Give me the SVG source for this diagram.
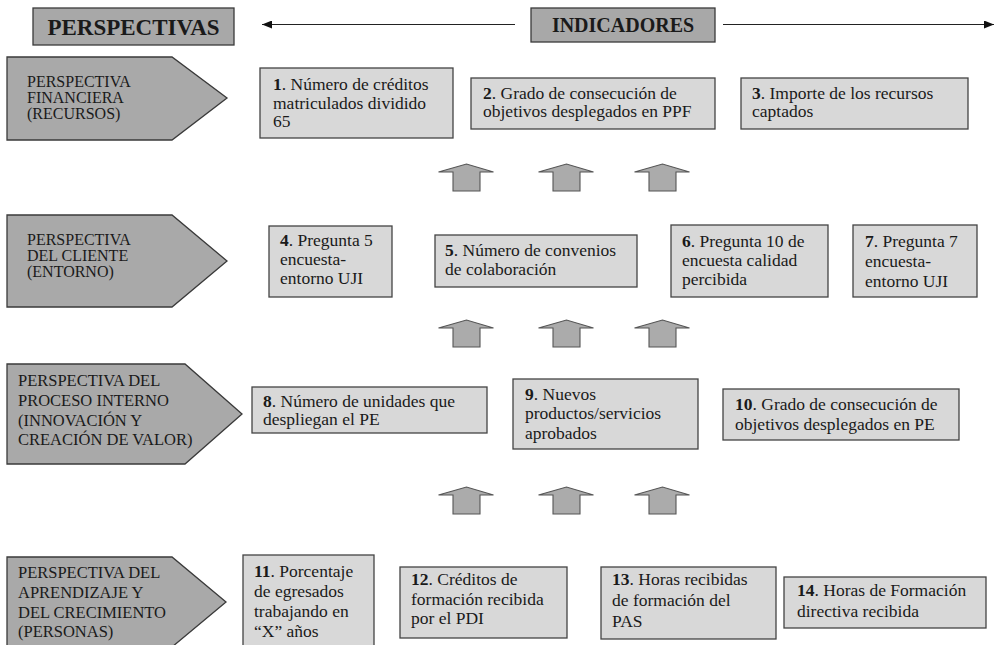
<svg xmlns="http://www.w3.org/2000/svg" width="995" height="645" viewBox="0 0 995 645" font-family="'Liberation Serif', 'Times New Roman', 'DejaVu Serif', serif">
  <style>
    text { font-family: 'Liberation Serif', 'Times New Roman', 'DejaVu Serif', serif; fill: #1a1a1a; }
    .hdr { fill: #a8a8a8; stroke: #3a3a3a; stroke-width: 1.3; }
    .hdr-t { font-weight: bold; text-anchor: middle; }
    .persp { fill: #a9a9a9; stroke: #3a3a3a; stroke-width: 1.3; }
    .persp-t { font-size: 16px; }
    .persp-t2 { font-size: 16.5px; }
    .ind { fill: #d8d8d8; stroke: #444; stroke-width: 1.3; }
    .ind-t { font-size: 17.5px; }
    .n { font-weight: bold; }
    .axis { stroke: #222; stroke-width: 1.2; fill: none; }
    .up { fill: #ababab; stroke: #555; stroke-width: 1.1; }
  </style>
  <defs>
    <marker id="tipEnd" viewBox="0 0 10 8" refX="10" refY="4" markerWidth="10" markerHeight="8" markerUnits="userSpaceOnUse" orient="auto">
      <path d="M0,0 L10,4 L0,8 Z" fill="#111"/>
    </marker>
    <marker id="tipStart" viewBox="0 0 10 8" refX="0" refY="4" markerWidth="10" markerHeight="8" markerUnits="userSpaceOnUse" orient="auto">
      <path d="M10,0 L0,4 L10,8 Z" fill="#111"/>
    </marker>
    <!-- block up-arrow, centred on x=0, apex at y=0 -->
    <polygon id="upArrow" class="up" points="-13.5,27 -13.5,8 -28,8 0,0 27,8 13.5,8 13.5,27"/>
  </defs>

  <!-- header labels -->
  <g id="hdr-perspectivas">
    <rect class="hdr" x="33" y="8" width="201" height="37"/>
    <text class="hdr-t" x="133.5" y="35" font-size="23">PERSPECTIVAS</text>
  </g>
  <g id="hdr-indicadores">
    <rect class="hdr" x="531" y="8" width="184" height="34"/>
    <text class="hdr-t" x="623" y="32" font-size="20">INDICADORES</text>
  </g>

  <!-- perspectives -->
  <g id="p-financiera">
    <polygon class="persp" points="7,57 172,57 227,98 172,140 7,140"/>
    <text class="persp-t" x="27" y="87">PERSPECTIVA</text>
    <text class="persp-t" x="27" y="103">FINANCIERA</text>
    <text class="persp-t" x="27" y="119">(RECURSOS)</text>
  </g>
  <g id="p-cliente">
    <polygon class="persp" points="7,215 172,215 227,261 172,307 7,307"/>
    <text class="persp-t" x="27" y="245">PERSPECTIVA</text>
    <text class="persp-t" x="27" y="261">DEL CLIENTE</text>
    <text class="persp-t" x="27" y="277">(ENTORNO)</text>
  </g>
  <g id="p-proceso">
    <polygon class="persp" points="7,364 185,364 242,414 185,464 7,464"/>
    <text class="persp-t2" x="18" y="386">PERSPECTIVA DEL</text>
    <text class="persp-t2" x="18" y="406">PROCESO INTERNO</text>
    <text class="persp-t2" x="18" y="426">(INNOVACIÓN Y</text>
    <text class="persp-t2" x="18" y="445">CREACIÓN DE VALOR)</text>
  </g>
  <g id="p-aprendizaje">
    <polygon class="persp" points="7,557 172,557 226,602 172,647 7,647"/>
    <text class="persp-t2" x="18" y="578">PERSPECTIVA DEL</text>
    <text class="persp-t2" x="18" y="598">APRENDIZAJE Y</text>
    <text class="persp-t2" x="18" y="618">DEL CRECIMIENTO</text>
    <text class="persp-t2" x="18" y="637">(PERSONAS)</text>
  </g>

  <!-- indicators -->
  <g id="ind-1">
    <rect class="ind" x="260" y="68" width="193" height="70"/>
    <text class="ind-t" x="273" y="90"><tspan class="n">1</tspan>. Número de créditos</text>
    <text class="ind-t" x="273" y="108.5">matriculados dividido</text>
    <text class="ind-t" x="273" y="127">65</text>
  </g>
  <g id="ind-2">
    <rect class="ind" x="471" y="78" width="244" height="51"/>
    <text class="ind-t" x="483" y="99"><tspan class="n">2</tspan>. Grado de consecución de</text>
    <text class="ind-t" x="483" y="117">objetivos desplegados en PPF</text>
  </g>
  <g id="ind-3">
    <rect class="ind" x="741" y="78" width="227" height="51"/>
    <text class="ind-t" x="752" y="99"><tspan class="n">3</tspan>. Importe de los recursos</text>
    <text class="ind-t" x="752" y="117">captados</text>
  </g>
  <g id="ind-4">
    <rect class="ind" x="269" y="226" width="123" height="71"/>
    <text class="ind-t" x="280" y="246"><tspan class="n">4</tspan>. Pregunta 5</text>
    <text class="ind-t" x="280" y="265">encuesta-</text>
    <text class="ind-t" x="280" y="284">entorno UJI</text>
  </g>
  <g id="ind-5">
    <rect class="ind" x="435" y="235" width="202" height="52"/>
    <text class="ind-t" x="445" y="256"><tspan class="n">5</tspan>. Número de convenios</text>
    <text class="ind-t" x="445" y="275">de colaboración</text>
  </g>
  <g id="ind-6">
    <rect class="ind" x="671" y="225" width="157" height="72"/>
    <text class="ind-t" x="682" y="247"><tspan class="n">6</tspan>. Pregunta 10 de</text>
    <text class="ind-t" x="682" y="266">encuesta calidad</text>
    <text class="ind-t" x="682" y="285">percibida</text>
  </g>
  <g id="ind-7">
    <rect class="ind" x="853" y="225" width="124" height="72"/>
    <text class="ind-t" x="865" y="247"><tspan class="n">7</tspan>. Pregunta 7</text>
    <text class="ind-t" x="865" y="267">encuesta-</text>
    <text class="ind-t" x="865" y="287">entorno UJI</text>
  </g>
  <g id="ind-8">
    <rect class="ind" x="252" y="387" width="235" height="46"/>
    <text class="ind-t" x="263" y="407"><tspan class="n">8</tspan>. Número de unidades que</text>
    <text class="ind-t" x="263" y="425">despliegan el PE</text>
  </g>
  <g id="ind-9">
    <rect class="ind" x="513" y="379" width="185" height="70"/>
    <text class="ind-t" x="525" y="400"><tspan class="n">9</tspan>. Nuevos</text>
    <text class="ind-t" x="525" y="419">productos/servicios</text>
    <text class="ind-t" x="525" y="439">aprobados</text>
  </g>
  <g id="ind-10">
    <rect class="ind" x="723" y="389" width="236" height="51"/>
    <text class="ind-t" x="735" y="410"><tspan class="n">10</tspan>. Grado de consecución de</text>
    <text class="ind-t" x="735" y="430">objetivos desplegados en PE</text>
  </g>
  <g id="ind-11">
    <rect class="ind" x="243" y="555" width="131" height="95"/>
    <text class="ind-t" x="254" y="577"><tspan class="n">11</tspan>. Porcentaje</text>
    <text class="ind-t" x="254" y="597">de egresados</text>
    <text class="ind-t" x="254" y="617">trabajando en</text>
    <text class="ind-t" x="254" y="637">“X” años</text>
  </g>
  <g id="ind-12">
    <rect class="ind" x="400" y="567" width="167" height="71"/>
    <text class="ind-t" x="411" y="585"><tspan class="n">12</tspan>. Créditos de</text>
    <text class="ind-t" x="411" y="605">formación recibida</text>
    <text class="ind-t" x="411" y="624">por el PDI</text>
  </g>
  <g id="ind-13">
    <rect class="ind" x="601" y="567" width="175" height="72"/>
    <text class="ind-t" x="612" y="585"><tspan class="n">13</tspan>. Horas recibidas</text>
    <text class="ind-t" x="612" y="606">de formación del</text>
    <text class="ind-t" x="612" y="627">PAS</text>
  </g>
  <g id="ind-14">
    <rect class="ind" x="784" y="577" width="202" height="51"/>
    <text class="ind-t" x="797" y="596"><tspan class="n">14</tspan>. Horas de Formación</text>
    <text class="ind-t" x="797" y="617">directiva recibida</text>
  </g>

  <!-- connectors: axis line and upward block arrows -->
  <g id="connectors">
    <line class="axis" x1="262" y1="24.5" x2="515" y2="24.5" marker-start="url(#tipStart)"/>
    <line class="axis" x1="723" y1="24.5" x2="994" y2="24.5" marker-end="url(#tipEnd)"/>

    <use href="#upArrow" x="466.5" y="164"/>
    <use href="#upArrow" x="566.5" y="164"/>
    <use href="#upArrow" x="662.5" y="164"/>

    <use href="#upArrow" x="466.5" y="320"/>
    <use href="#upArrow" x="566.5" y="320"/>
    <use href="#upArrow" x="662.5" y="320"/>

    <use href="#upArrow" x="466.5" y="487"/>
    <use href="#upArrow" x="566.5" y="487"/>
    <use href="#upArrow" x="662.5" y="487"/>
  </g>
</svg>
